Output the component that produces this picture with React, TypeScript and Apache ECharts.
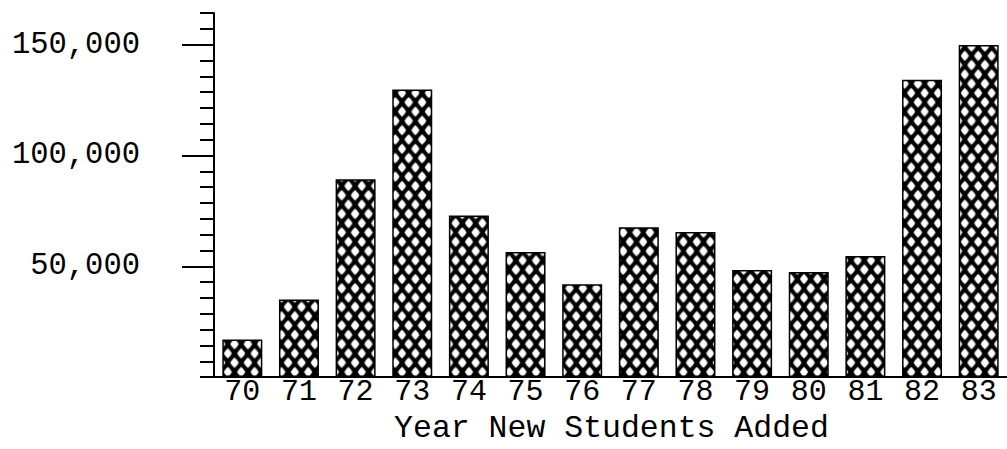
import React, { useEffect, useRef } from "react";
import * as echarts from "echarts";

const years = ["70", "71", "72", "73", "74", "75", "76", "77", "78", "79", "80", "81", "82", "83"];
const students = [17000, 35000, 89300, 129800, 72900, 56400, 41900, 67600, 65500, 48300, 47400, 54600, 134200, 149900];
const majorTicks = [50000, 100000, 150000];
const xTitle = "Year New Students Added";

const MINOR = 50000 / 7;
const YMAX = MINOR * 23;
const FONT = "'Courier New', 'Liberation Mono', monospace";

function makePattern(): string {
  const c = document.createElement("canvas");
  const w = 13.4;
  const h = 18.6;
  c.width = 27;
  c.height = 37;
  const ctx = c.getContext("2d")!;
  ctx.scale(27 / w, 37 / h);
  ctx.fillStyle = "#000";
  ctx.fillRect(0, 0, w, h);
  ctx.fillStyle = "#fff";
  const hw = 4.2;
  const hh = 5.3;
  const centers = [
    [0, 0], [w, 0], [0, h], [w, h], [w / 2, h / 2],
  ];
  for (const [cx, cy] of centers) {
    ctx.beginPath();
    ctx.moveTo(cx, cy - hh);
    ctx.quadraticCurveTo(cx + hw * 0.6, cy - hh * 0.6, cx + hw, cy);
    ctx.quadraticCurveTo(cx + hw * 0.6, cy + hh * 0.6, cx, cy + hh);
    ctx.quadraticCurveTo(cx - hw * 0.6, cy + hh * 0.6, cx - hw, cy);
    ctx.quadraticCurveTo(cx - hw * 0.6, cy - hh * 0.6, cx, cy - hh);
    ctx.closePath();
    ctx.fill();
  }
  return c.toDataURL();
}

export default function App() {
  const ref = useRef<HTMLDivElement>(null);
  useEffect(() => {
    if (!ref.current) return;
    const chart = echarts.init(ref.current, null, { renderer: "svg" });
    const pattern = makePattern();
    chart.setOption({
      animation: false,
      backgroundColor: "#fff",
      grid: { left: 214, top: 13, width: 809, height: 365.5, containLabel: false },
      xAxis: {
        type: "category",
        data: years,
        boundaryGap: true,
        axisLine: { show: true, lineStyle: { color: "#000", width: 2 } },
        axisTick: { show: false },
        axisLabel: { color: "#000", fontSize: 30, fontFamily: FONT, margin: 0 },
        name: xTitle,
        nameLocation: "middle",
        nameGap: 33,
        nameTextStyle: { color: "#000", fontSize: 31.5, fontFamily: FONT, padding: [0, 0, 0, 2] },
        splitLine: { show: false },
      },
      yAxis: [
        {
          type: "value",
          min: 0,
          max: YMAX,
          interval: MINOR,
          position: "left",
          axisLine: { show: true, lineStyle: { color: "#000", width: 2 } },
          axisTick: { show: true, length: 14, lineStyle: { color: "#000", width: 2 } },
          axisLabel: {
            color: "#000",
            fontSize: 30.5,
            fontFamily: FONT,
            margin: 74,
            formatter: (v: number) => {
              const k = v / 50000;
              if (v > 0 && Math.abs(k - Math.round(k)) < 1e-6) {
                return Math.round(v).toLocaleString("en-US");
              }
              return "";
            },
          },
          splitLine: { show: false },
        },
        {
          type: "value",
          min: 0,
          max: YMAX,
          interval: 50000,
          position: "left",
          axisLine: { show: false },
          axisTick: { show: true, length: 32, customValues: majorTicks, lineStyle: { color: "#000", width: 2 } },
          axisLabel: { show: false },
          splitLine: { show: false },
        },
      ],
      series: [
        {
          type: "bar",
          yAxisIndex: 0,
          data: students,
          barWidth: 40,
          itemStyle: {
            color: { image: pattern, repeat: "repeat", scaleX: 13.4 / 27, scaleY: 18.6 / 37 },
            borderColor: "#000",
            borderWidth: 1.5,
          },
        },
      ],
    });
    return () => chart.dispose();
  }, []);
  return (
    <div
      ref={ref}
      style={{ position: "fixed", left: 0, top: 0, width: 1007, height: 449, background: "#fff" }}
    />
  );
}
